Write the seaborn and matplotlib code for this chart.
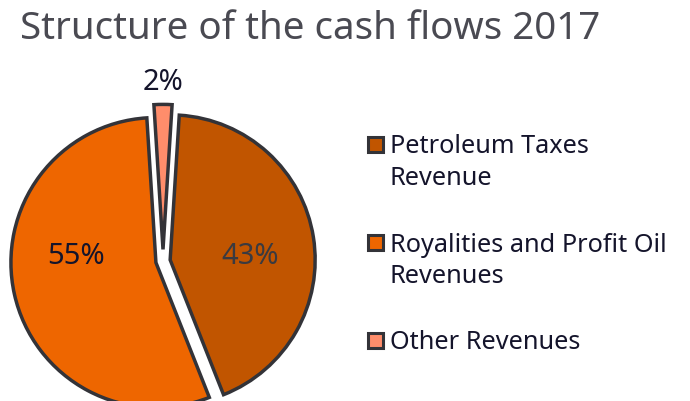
import matplotlib
matplotlib.use("Agg")
import matplotlib.pyplot as plt
import matplotlib.patches as mpatches
import seaborn as sns
import numpy as np

categories = ["Petroleum Taxes\nRevenue", "Royalities and Profit Oil\nRevenues", "Other Revenues"]
values = [43, 55, 2]
labels_pct = ["43%", "55%", "2%"]
colors = ["#C15500", "#EE6600", "#FF8D6B"]
label_colors = ["#3a3a40", "#14142b", "#14142b"]

sns.set_theme(style="white")
plt.rcParams['font.family'] = ['Noto Sans', 'DejaVu Sans']

fig = plt.figure(figsize=(6.9, 4.02), dpi=100)
W, H = 690, 402
cx, cy, r = 163, 262, 145
half = 1.2 * r
ax = fig.add_axes([(cx - half) / W, (H - cy - half) / H, 2 * half / W, 2 * half / H])

wedges, _ = ax.pie(values, colors=colors, startangle=86.4, counterclock=False,
                   explode=[0.05, 0.05, 0.08],
                   wedgeprops=dict(edgecolor="#333338", linewidth=2.5))
ax.set_xlim(-1.2, 1.2)
ax.set_ylim(-1.2, 1.2)
ax.set_aspect("equal")
ax.axis("off")

for w, txt, col in zip(wedges, labels_pct, label_colors):
    ang = np.deg2rad((w.theta1 + w.theta2) / 2)
    if w.theta2 - w.theta1 < 20:
        x, y = 1.24 * np.cos(ang), 1.24 * np.sin(ang)
    else:
        x, y = 0.6 * np.sign(np.cos(ang)), 0.04
    ax.text(x, y, txt, ha="center", va="center", fontsize=21, color=col)

fig.text(20 / W, 1 - 39 / H, "Structure of the cash flows 2017", fontsize=27.7,
         color="#4a4a52", ha="left", va="baseline")

# manual legend (handle aligned with first text line)
row0, row_step, line_step = 145, 98, 32
for i, (cat, c) in enumerate(zip(categories, colors)):
    yc = row0 + row_step * i
    fig.patches.append(mpatches.Rectangle((368 / W, 1 - (yc + 7.5) / H), 15 / W, 15 / H,
                                          transform=fig.transFigure, facecolor=c,
                                          edgecolor="#333338", linewidth=2.2))
    for j, line in enumerate(cat.split("\n")):
        fig.text(390 / W, 1 - (yc + 8.5 + line_step * j) / H, line, fontsize=18.2,
                 color="#14142b", ha="left", va="baseline")

fig.savefig("out.png", dpi=100)
